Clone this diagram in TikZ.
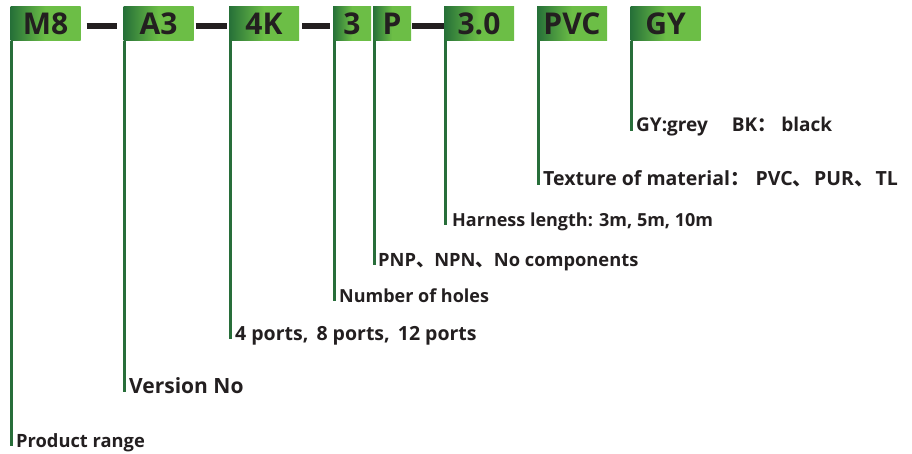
\documentclass[tikz,border=0pt]{standalone}
\usepackage{fontspec}
\setmainfont{Open Sans}
\newfontfamily\cjk{Noto Sans CJK SC}
\usetikzlibrary{positioning}
\definecolor{inkgrey}{RGB}{35, 31, 32}
\definecolor{boxdark}{RGB}{38, 112, 56}
\definecolor{boxlight}{RGB}{108, 190, 70}
\definecolor{stemgreen}{RGB}{40, 110, 58}
\pgfdeclarehorizontalshading{greenbox}{100bp}{color(0bp)=(boxdark); color(25bp)=(boxdark); color(50bp)=(boxlight); color(100bp)=(boxlight)}

\begin{document}
\begin{tikzpicture}[x=1pt, y=-1pt,
    codebox/.style={shading=greenbox, minimum width=70pt, minimum height=34pt,
        inner sep=0pt, text height=22pt, text depth=0pt, text=inkgrey,
        font=\fontsize{30}{30}\selectfont\bfseries},
    smallbox/.style={codebox, minimum width=38pt},
    dashbar/.style={draw=inkgrey, line width=6pt},
    stem/.style={draw=stemgreen, line width=3pt},
    desc/.style={anchor=base west, inner sep=0pt, text=inkgrey,
        font=\fontsize{#1}{#1}\selectfont\bfseries},
    desc/.default=18
]
    \useasboundingbox (0,0) rectangle (912,454);
    % code boxes
    \node[codebox] (m8) at (45.5,24) {M8};
    \node[codebox] (a3) at (158.5,24) {A3};
    \node[codebox] (k4) at (264,24) {4K};
    \node[smallbox] (n3) at (352,24) {3};
    \node[smallbox] (pp) at (392,24) {P};
    \node[codebox] (len) at (479,24) {3.0};
    \node[codebox] (pvc) at (572,24) {PVC};
    \node[codebox] (gy) at (665.5,24) {GY};

    % dashes between codes
    \draw[dashbar, shorten <=6pt, shorten >=6pt] ([yshift=-2pt]m8.east) -- ([yshift=-2pt]a3.west);
    \draw[dashbar, shorten <=2pt, shorten >=2pt] ([yshift=-2pt]a3.east) -- ([yshift=-2pt]k4.west);
    \draw[dashbar, shorten <=3pt, shorten >=3pt] ([yshift=-2pt]k4.east) -- ([yshift=-2pt]n3.west);
    \draw[dashbar, shorten <=1pt] ([yshift=-2pt]pp.east) -- ([yshift=-2pt]len.west);

    % descriptions
    \node[desc=18.3] (dm8) at (16,447) {Product range};
    \node[desc=21] (da3) at (129,393) {Version No};
    \node[desc=19.5] (dk4) at (235,340) {4 ports,\hspace{3pt} 8 ports,\hspace{3pt} 12 ports};
    \node[desc] (dn3) at (339,302) {Number of holes};
    \node[desc=18.3] (dpp) at (378,266) {PNP{\cjk 、}NPN{\cjk 、}No components};
    \node[desc] (dlen) at (452,226) {Harness length: 3m, 5m, 10m};
    \node[desc=19.5] (dpvc) at (543,186) {Texture of material{\cjk ：}\hspace{6pt}PVC{\cjk 、}\hspace{2pt}PUR{\cjk 、}\hspace{2pt}TL};
    \node[desc=19] (dgy) at (636,132) {GY:grey\hspace{24pt}BK{\cjk ：}\hspace{5pt}black};

    % stems from boxes down to descriptions
    \foreach \b/\d in {m8/dm8, a3/da3, k4/dk4, n3/dn3, pp/dpp, len/dlen, pvc/dpvc, gy/dgy}
        \draw[stem] ([xshift=1.5pt]\b.south west) -- ([xshift=1.5pt, yshift=1pt]\b.south west |- \d.base);
\end{tikzpicture}
\end{document}
